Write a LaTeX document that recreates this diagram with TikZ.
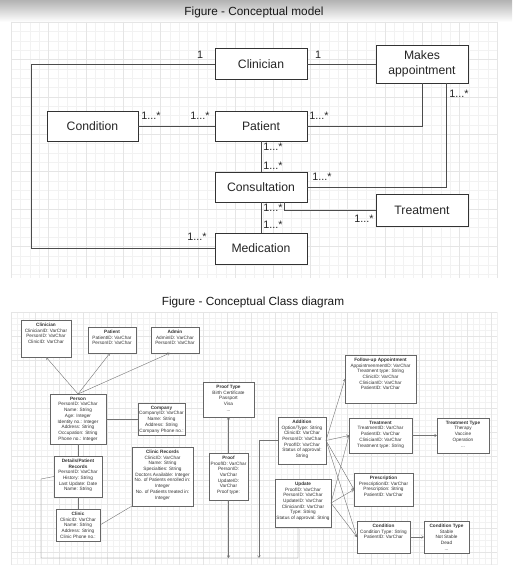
\documentclass[tikz,border=0pt]{standalone}
\usepackage{fontspec}
\setmainfont{Liberation Sans}
\usetikzlibrary{arrows.meta}
\newcommand{\classbox}[6]{%
  \node[clsbox, minimum width=#4pt, minimum height=#5pt, anchor=north west] (#1) at (#2,#3) {};
  \node[clstext, anchor=north] (#1-t) at ([yshift=-2.8pt]#1.north) {#6};}
\begin{document}
\begin{tikzpicture}[x=1pt,y=-1pt,
  gridminor/.style={draw=gray!10, line width=0.3pt},
  gridmajor/.style={draw=gray!20, line width=0.35pt},
  cbox/.style={draw=black!80, line width=0.9pt, fill=white, minimum width=92pt, minimum height=31pt,
     inner sep=0pt, outer sep=0pt, font=\fontsize{12.2}{14.5}\selectfont, align=center, text=black!85},
  mult/.style={font=\fontsize{10.8}{13}\selectfont, inner sep=0pt, text=black!85},
  conn/.style={draw=black!70, line width=0.8pt},
  ttl/.style={font=\fontsize{11.8}{14}\selectfont, inner sep=0pt, text=black!90},
  clsbox/.style={draw=black!60, line width=0.6pt, fill=white, inner sep=0pt, outer sep=0pt},
  clstext/.style={font=\fontsize{4.7}{5.7}\selectfont, align=center, inner sep=0pt, text=black!80},
  rel/.style={draw=black!55, line width=0.4pt},
  arr/.style={rel, -{Straight Barb[length=2.2pt,width=2.8pt]}}]
\useasboundingbox (0,0) rectangle (512,572);
\fill[white] (0,0) rectangle (512,572);
\shade[top color=gray!60, bottom color=white] (0,0) rectangle (512,22);
% top grid
\foreach \i in {0,...,52}{\draw[gridminor] ({11+\i*9.346},22) -- ({11+\i*9.346},278);}
\foreach \j in {0,...,27}{\draw[gridminor] (11,{22+\j*9.346}) -- (497,{22+\j*9.346});}
\foreach \i in {0,4,...,52}{\draw[gridmajor] ({11+\i*9.346},22) -- ({11+\i*9.346},278);}
\foreach \j in {0,4,...,27}{\draw[gridmajor] (11,{22+\j*9.346}) -- (497,{22+\j*9.346});}
% lower grid
\foreach \i in {0,...,81}{\draw[gridminor] ({11+\i*6},312) -- ({11+\i*6},565);}
\foreach \j in {0,...,42}{\draw[gridminor] (11,{312+\j*6}) -- (497,{312+\j*6});}
\foreach \i in {0,4,...,81}{\draw[gridmajor] ({11+\i*6},312) -- ({11+\i*6},565);}
\foreach \j in {0,4,...,42}{\draw[gridmajor] (11,{312+\j*6}) -- (497,{312+\j*6});}

\node[ttl] (title1) at (254,12.5) {Figure - Conceptual model};
\node[ttl] (title2) at (253,302.5) {Figure - Conceptual Class diagram};

% ===== Conceptual model =====
\node[cbox] (clin) at (261,64) {Clinician};
\node[cbox, minimum height=38pt] (makes) at (422,64) {Makes\\appointment};
\node[cbox, minimum width=91pt, minimum height=30pt] (cond) at (92.5,126) {Condition};
\node[cbox, minimum height=30pt] (pat) at (261,126) {Patient};
\node[cbox, minimum height=30pt] (cons) at (261,187) {Consultation};
\node[cbox, minimum height=32pt] (treat) at (422,210) {Treatment};
\node[cbox] (med) at (261,248.5) {Medication};

\coordinate (cl1) at (31,64);
\coordinate (cl2) at (31,248.5);
\draw[conn] (clin.west) -- (cl1) -- (cl2) -- (med.west);
\draw[conn] (clin.east) -- (makes.west);
\draw[conn] (cond.east) -- (pat.west);
\draw[conn] (pat.east) -| (makes.south);
\draw[conn] ([xshift=24pt]makes.south) |- (cons.east);
\draw[conn] (pat.south) -- (cons.north);
\draw[conn] (cons.south) -- (med.north);
\draw[conn] (treat.west) -| ([xshift=23pt]cons.south);

\node[mult] (m1) at (200,55) {1};
\node[mult] (m2) at (318,55) {1};
\node[mult] (m3) at (151,116) {1...*};
\node[mult] (m4) at (200,116) {1...*};
\node[mult] (m5) at (319,116) {1...*};
\node[mult] (m6) at (459,94) {1...*};
\node[mult] (m7) at (273,147) {1...*};
\node[mult] (m8) at (273,166) {1...*};
\node[mult] (m9) at (322,177) {1...*};
\node[mult] (m10) at (273,208) {1...*};
\node[mult] (m11) at (273,225) {1...*};
\node[mult] (m12) at (364,219) {1...*};
\node[mult] (m13) at (197,237) {1...*};

% ===== Conceptual class diagram =====
\classbox{clinicianC}{21}{320}{50}{37}{\textbf{Clinician}\\ClinicianID: VarChar\\PersonID: VarChar\\ClinicID: VarChar}
\classbox{patientC}{88}{327}{48}{26}{\textbf{Patient}\\PatientID: VarChar\\PersonID: VarChar}
\classbox{adminC}{151}{327}{48}{26}{\textbf{Admin}\\AdminID: VarChar\\PersonID: VarChar}
\classbox{personC}{50}{394}{56}{50}{\textbf{Person}\\PersonID: VarChar\\Name: String\\Age: Integer\\Identity no.: Integer\\Address: String\\Occupation: String\\Phone no.: Integer}
\classbox{companyC}{138}{403}{47}{32}{\textbf{Company}\\CompanyID: VarChar\\Name: String\\Address: String\\Company Phone no.:}
\classbox{prooftypeC}{203}{382}{51}{35}{\textbf{Proof Type}\\Birth Certificate\\Passport\\Visa\\...}
\classbox{proofC}{209}{453}{39}{47}{\textbf{Proof}\\ProofID: VarChar\\PersonID:\\VarChar\\UpdateID:\\VarChar\\Proof type:}
\classbox{detailsC}{54}{456}{48}{41}{\textbf{Details/Patient}\\\textbf{Records}\\PersonID: VarChar\\History: String\\Last Update: Date\\Name: String}
\classbox{clinicC}{56}{509}{44}{32}{\textbf{Clinic}\\ClinicID: VarChar\\Name: String\\Address: String\\Clinic Phone no.:}
\classbox{clinrecC}{132}{447}{61}{59}{\textbf{Clinic Records}\\ClinicID: VarChar\\Name: String\\Specialties: String\\Doctors Available: Integer\\No. of Patients enrolled in:\\Integer\\No. of Patients treated in:\\Integer}
\classbox{followC}{345}{355}{71}{48}{\textbf{Follow-up Appointment}\\AppointmenmentID: VarChar\\Treatment type: String\\ClinicID: VarChar\\ClinicianID: VarChar\\PatientID: VarChar}
\classbox{treatmentC}{349}{418}{63}{35}{\textbf{Treatment}\\TreatmentID: VarChar\\PatientID: VarChar\\ClinicianID: VarChar\\Treatment type: String}
\classbox{ttypeC}{437}{418}{52}{35}{\textbf{Treatment Type}\\Therapy\\Vaccine\\Operation\\...}
\classbox{additionC}{278}{417}{48}{47}{\textbf{Addition}\\Option/Type: String\\ClinicID: VarChar\\PersonID: VarChar\\ProofID: VarChar\\Status of approval:\\String}
\classbox{updateC}{275}{479}{56}{48}{\textbf{Update}\\ProofID: VarChar\\PersonID: VarChar\\UpdateID: VarChar\\ClinicianID: VarChar\\Type: String\\Status of approval: String}
\classbox{prescC}{354}{473}{59}{33}{\textbf{Prescription}\\PrescriptionID: VarChar\\Prescription: String\\PatientID: VarChar}
\classbox{conditionC}{357}{521}{53}{32}{\textbf{Condition}\\Condition Type: String\\PatientID: VarChar}
\classbox{ctypeC}{424}{521}{45}{32}{\textbf{Condition Type}\\Stable\\Not Stable\\Dead\\...}

\draw[arr] (personC.north) -- (clinicianC.south);
\draw[arr] (personC.north) -- ([xshift=-2pt]patientC.south);
\draw[arr] (personC.north) -- ([xshift=-5pt]adminC.south);
\draw[rel] (personC.east) -- (companyC.west);
\draw[rel] (personC.south) -- (detailsC.north);
\draw[rel] (detailsC.south) -- (clinicC.north);
\draw[rel] (clinicC.east) -- (clinrecC.south west);
\draw[arr] (proofC.north) -- (prooftypeC.south);
\coordinate (b1) at (41,479);
\coordinate (b2) at (41,558);
\coordinate (b3) at (298,558);
\draw[rel] (detailsC.west) -- (b1) -- (b2) -- (b3) -- ([xshift=-5pt]updateC.south);
\coordinate (bp) at (228.5,558);
\draw[arr] (proofC.south) -- (bp);
\coordinate (ba1) at (259,440.5);
\coordinate (ba2) at (259,558);
\draw[arr] (additionC.west) -- (ba1) -- (ba2);
\draw[arr] (additionC.east) -- (followC.west);
\draw[arr] (additionC.east) -- (treatmentC.west);
\draw[arr] (additionC.east) -- (prescC.west);
\draw[arr] (additionC.east) -- (conditionC.west);
\draw[arr] (updateC.east) -- (treatmentC.west);
\draw[arr] (updateC.east) -- (prescC.west);
\draw[arr] (updateC.east) -- (conditionC.west);
\draw[arr] (treatmentC.east) -- (ttypeC.west);
\draw[arr] (conditionC.east) -- (ctypeC.west);
\end{tikzpicture}
\end{document}
